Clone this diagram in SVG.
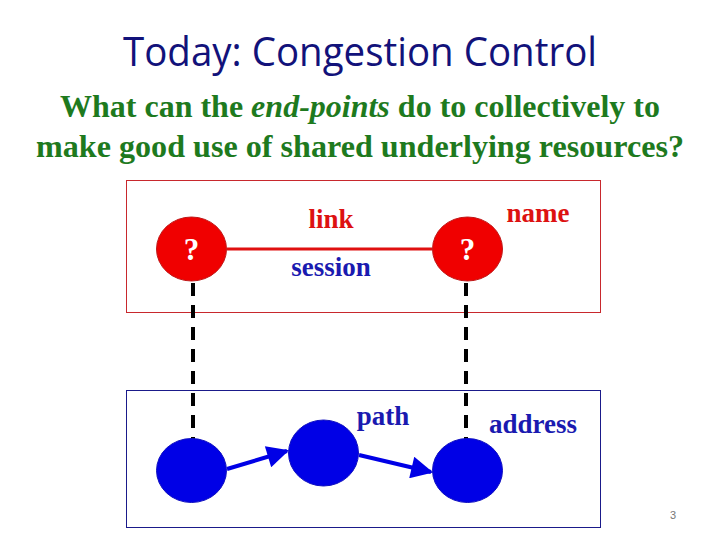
<svg xmlns="http://www.w3.org/2000/svg" width="720" height="540" viewBox="0 0 720 540">
<style>
.title{font-family:"Open Sans","Liberation Sans",sans-serif;font-size:40px;fill:#12127a;text-anchor:middle}
.sub{font-family:"Liberation Serif",serif;font-size:31px;font-weight:bold;fill:#1e7a1e;text-anchor:middle}
.lbl{font-family:"Liberation Serif",serif;font-size:27px;font-weight:bold;text-anchor:middle}
.red{fill:#dd1111}
.blu{fill:#1a1ab0}
.rnode{fill:#f00000;stroke:#c01818;stroke-width:1}
.bnode{fill:#0000e6;stroke:#1010c0;stroke-width:1}
.q{font-family:"Liberation Serif",serif;font-size:31px;font-weight:bold;fill:#fff;text-anchor:middle}
.dash{stroke:#000;stroke-width:4;stroke-dasharray:13 9;fill:none}
.arr{stroke:#0000e6;stroke-width:4;fill:none;marker-end:url(#ah)}
</style>
<defs>
<marker id="ah" viewBox="0 0 10 10" refX="9" refY="5" markerWidth="6.5" markerHeight="5.5" orient="auto" markerUnits="strokeWidth">
<path d="M0,0 L10,5 L0,10 z" fill="#0000e6"/>
</marker>
</defs>
<rect width="720" height="540" fill="#fff"/>
<text class="title" x="360" y="66" textLength="474" lengthAdjust="spacingAndGlyphs">Today: Congestion Control</text>
<text class="sub" x="360" y="117" textLength="600" lengthAdjust="spacingAndGlyphs">What can the <tspan font-style="italic">end-points</tspan> do to collectively to</text>
<text class="sub" x="360" y="157" textLength="648" lengthAdjust="spacingAndGlyphs">make good use of shared underlying resources?</text>

<g id="upper-box"><rect x="126.5" y="180.5" width="474" height="132" fill="none" stroke="#c8282d" stroke-width="1"/></g>
<g id="lower-box"><rect x="126.5" y="390.5" width="474" height="137" fill="none" stroke="#1a1a8a" stroke-width="1"/></g>

<g id="connectors">
<line x1="227" y1="249" x2="432" y2="249" stroke="#e01010" stroke-width="3"/>
<line class="dash" x1="193" y1="283" x2="193" y2="440"/>
<line class="dash" x1="466" y1="283" x2="466" y2="440"/>
<line class="arr" x1="227" y1="469" x2="287" y2="451"/>
<line class="arr" x1="359" y1="455" x2="431" y2="472"/>
</g>

<g id="node-q1"><ellipse class="rnode" cx="191.5" cy="249" rx="35" ry="32"/><text class="q" x="191.5" y="260">?</text></g>
<g id="node-q2"><ellipse class="rnode" cx="467.5" cy="249" rx="35" ry="32"/><text class="q" x="467.5" y="260">?</text></g>
<g id="node-b1"><ellipse class="bnode" cx="191.5" cy="470.5" rx="35" ry="32"/></g>
<g id="node-b2"><ellipse class="bnode" cx="323.5" cy="453" rx="35" ry="33"/></g>
<g id="node-b3"><ellipse class="bnode" cx="467.5" cy="470.5" rx="35" ry="32"/></g>

<text class="lbl red" x="331" y="228">link</text>
<text class="lbl blu" x="331" y="276">session</text>
<text class="lbl red" x="538" y="222">name</text>
<text class="lbl blu" x="383" y="425">path</text>
<text class="lbl blu" x="533" y="433">address</text>
<text x="673" y="519" font-family="'Liberation Sans',sans-serif" font-size="11" fill="#777" text-anchor="middle">3</text>
</svg>
